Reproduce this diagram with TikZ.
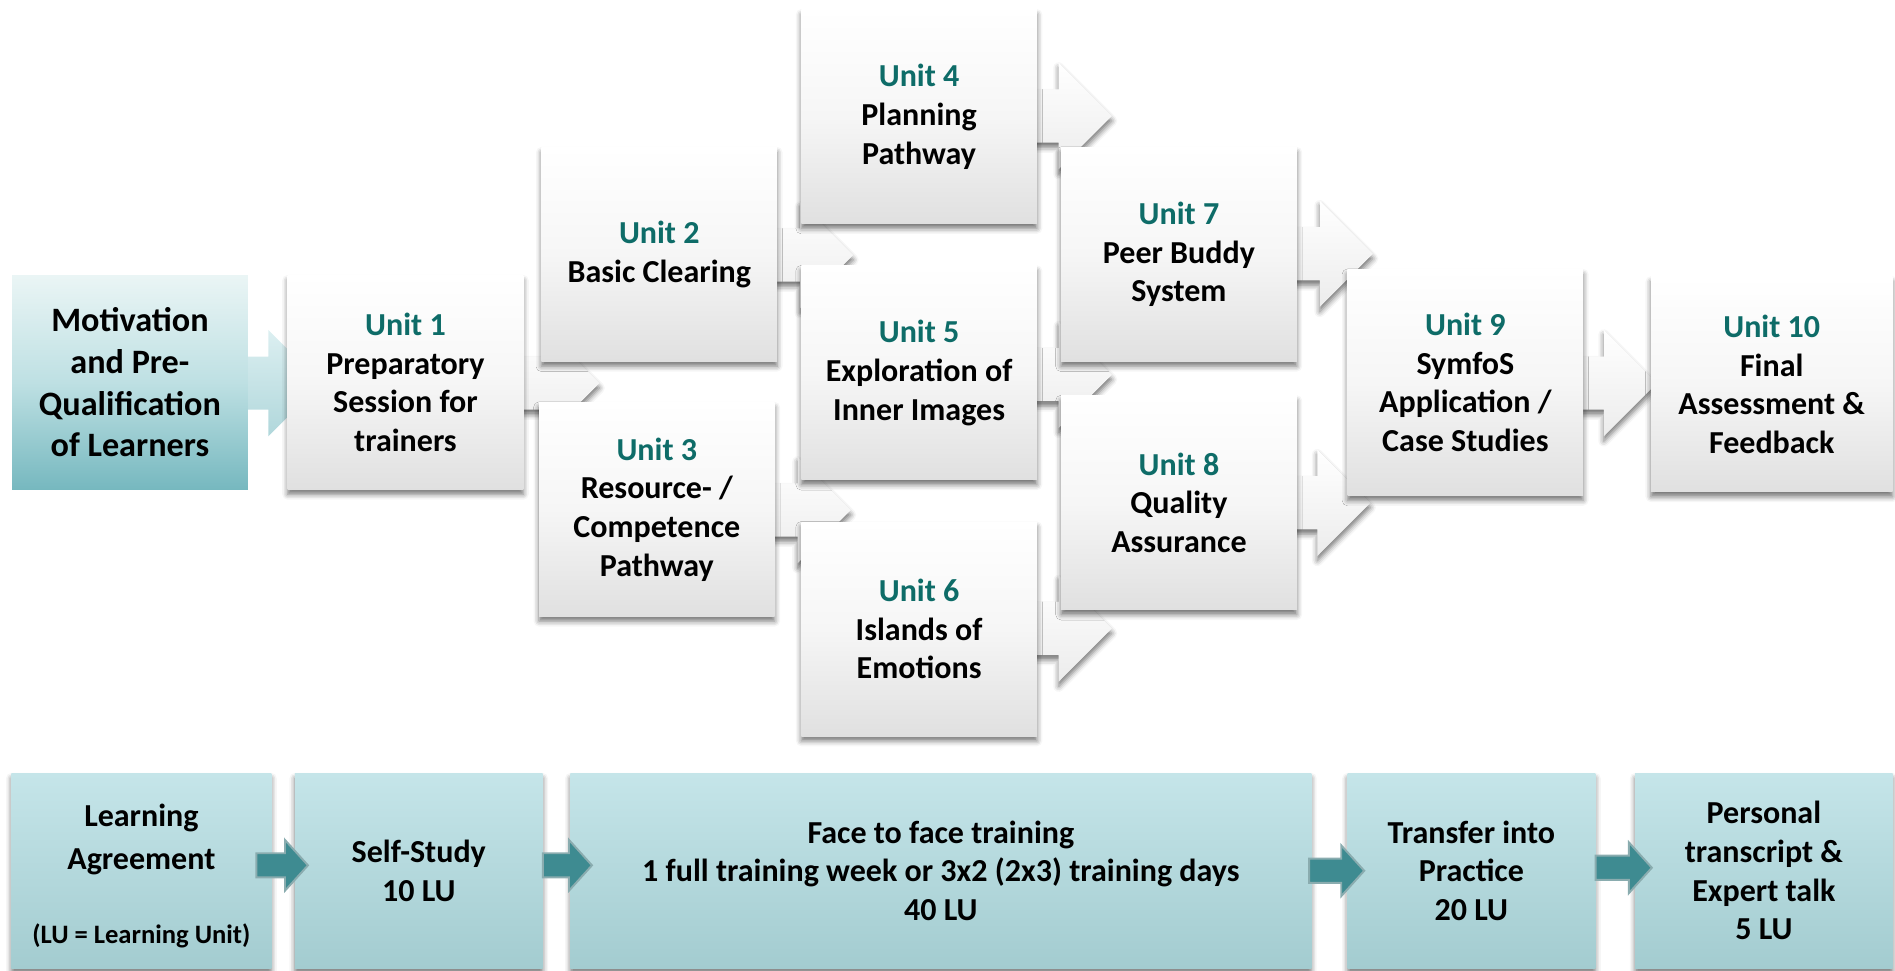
\documentclass[tikz,border=0pt]{standalone}
\usepackage{fontspec}
\setmainfont{Carlito}
\usetikzlibrary{calc,shadows.blur}
\definecolor{unitteal}{RGB}{14,108,104}
\definecolor{boxgrey}{RGB}{224,224,224}
\definecolor{boxmid}{RGB}{246,246,246}
\definecolor{mottop}{RGB}{234,245,245}
\definecolor{motmid}{RGB}{190,224,227}
\definecolor{motbot}{RGB}{118,184,191}
\definecolor{lowtop}{RGB}{197,229,233}
\definecolor{lowbot}{RGB}{163,204,208}
\definecolor{arrteal}{RGB}{62,139,145}
\definecolor{arredge}{RGB}{138,172,175}
\definecolor{motarrtop}{RGB}{220,239,241}
\definecolor{motarrbot}{RGB}{176,215,219}
\definecolor{arrbot}{RGB}{236,236,236}
\newcommand\ut[1]{\textcolor{unitteal}{#1}}
% big block arrow: #1 style, #2 source point, #3 tip coordinate
\newcommand\blockarrow[3]{%
  \path[#1] let \p1=(#2), \p2=(#3) in
    (\x1,\y2+22pt) -- (\x2-44pt,\y2+22pt) -- (\x2-44pt,\y2+44pt) -- (\x2,\y2)
    -- (\x2-44pt,\y2-44pt) -- (\x2-44pt,\y2-22pt) -- (\x1,\y2-22pt) -- cycle;}
% small teal arrow: #1 start coordinate, #2 tip coordinate
\newcommand\tealarrow[2]{%
  \path[smallarr] let \p1=(#1), \p2=(#2) in
    (\x1,\y2+10pt) -- (\x2-19pt,\y2+10pt) -- (\x2-19pt,\y2+21pt) -- (\x2,\y2)
    -- (\x2-19pt,\y2-21pt) -- (\x2-19pt,\y2-10pt) -- (\x1,\y2-10pt) -- cycle;}
\tikzset{
  softshadow/.style={blur shadow={shadow xshift=0pt, shadow yshift=-4pt, shadow blur radius=4.5pt, shadow opacity=55}},
  unitbox/.style={rectangle, inner sep=0pt, minimum width=195pt, minimum height=177pt,
    align=center, font=\fontsize{26.5}{32}\selectfont\bfseries,
    top color=white, bottom color=boxgrey, middle color=boxmid, softshadow},
  motbox/.style={rectangle, inner sep=0pt, minimum width=195pt, minimum height=177pt,
    align=center, font=\fontsize{28.3}{34.5}\selectfont\bfseries,
    top color=mottop, bottom color=motbot, middle color=motmid},
  lowbox/.style={rectangle, inner sep=0pt, minimum height=161pt,
    align=center, font=\fontsize{26.5}{32}\selectfont\bfseries,
    top color=lowtop, bottom color=lowbot, softshadow},
  bigarr/.style={shade, top color=white, bottom color=arrbot, softshadow},
  motarr/.style={shade, top color=motarrtop, bottom color=motarrbot},
  smallarr/.style={fill=arrteal, draw=arredge, line width=1.6pt},
  plain/.style={inner sep=0pt, align=center}
}
\begin{document}
\begin{tikzpicture}[x=1pt,y=-1pt]
\useasboundingbox (0,0) rectangle (1568,803);
% ---------- positions of the upper boxes ----------
\coordinate (pmot) at (107.5,316.5);
\coordinate (pu1) at (335.5,316.5);
\coordinate (pu2) at (545.5,210.5);
\coordinate (pu3) at (543.5,421.5);
\coordinate (pu4) at (760.5,96.5);
\coordinate (pu5) at (760.5,308.5);
\coordinate (pu6) at (760.5,520.5);
\coordinate (pu7) at (975.5,210.5);
\coordinate (pu8) at (975.5,416);
\coordinate (pu9) at (1212.5,316.5);
\coordinate (pu10) at (1466,318);
% arrow tips
\coordinate (t0) at (266,317);
\coordinate (t1) at (496,317);
\coordinate (t2) at (706,211);
\coordinate (t3) at (704,422);
\coordinate (t4) at (920,96);
\coordinate (t5) at (920,310);
\coordinate (t6) at (920,520);
\coordinate (t7) at (1136,210);
\coordinate (t8) at (1134,416);
\coordinate (t9) at (1371,317);
% ---------- block arrows (behind the boxes) ----------
\blockarrow{motarr}{pmot}{t0}
\blockarrow{bigarr}{pu1}{t1}
\blockarrow{bigarr}{pu2}{t2}
\blockarrow{bigarr}{pu3}{t3}
\blockarrow{bigarr}{pu4}{t4}
\blockarrow{bigarr}{pu5}{t5}
\blockarrow{bigarr}{pu6}{t6}
\blockarrow{bigarr}{pu7}{t7}
\blockarrow{bigarr}{pu8}{t8}
\blockarrow{bigarr}{pu9}{t9}
% ---------- upper boxes ----------
\node[motbox] (mot) at (pmot) {Motivation\\and Pre-\\Qualification\\of Learners};
\node[unitbox] (u1) at (pu1) {\ut{Unit 1}\\Preparatory\\Session for\\trainers};
\node[unitbox] (u2) at (pu2) {\ut{Unit 2}\\Basic Clearing};
\node[unitbox] (u3) at (pu3) {\ut{Unit 3}\\Resource- /\\Competence\\Pathway};
\node[unitbox] (u4) at (pu4) {\ut{Unit 4}\\Planning\\Pathway};
\node[unitbox] (u5) at (pu5) {\ut{Unit 5}\\Exploration of\\Inner Images};
\node[unitbox] (u6) at (pu6) {\ut{Unit 6}\\Islands of\\Emotions};
\node[unitbox] (u7) at (pu7) {\ut{Unit 7}\\Peer Buddy\\System};
\node[unitbox] (u8) at (pu8) {\ut{Unit 8}\\Quality\\Assurance};
\node[unitbox, minimum height=187pt] (u9) at (pu9) {\ut{Unit 9}\\SymfoS\\Application /\\Case Studies};
\node[unitbox, minimum width=200pt, minimum height=178pt] (u10) at (pu10) {\ut{Unit 10}\\Final\\Assessment \&\\Feedback};
% ---------- lower flow ----------
\node[lowbox, minimum width=215pt] (b1) at (117,720.5) {};
\node[plain, font=\fontsize{26.5}{35}\selectfont\bfseries] (b1t) at ($(b1.center)+(0,-26)$) {Learning\\Agreement};
\node[plain, font=\fontsize{22}{26}\selectfont\bfseries] (b1n) at ($(b1.center)+(0,53.5)$) {(LU = Learning Unit)};
\node[lowbox, minimum width=205pt] (b2) at (346.5,720.5) {Self-Study\\10 LU};
\node[lowbox, minimum width=613pt] (b3) at (778.5,720.5) {Face to face training\\1 full training week or 3x2 (2x3) training days\\40 LU};
\node[lowbox, minimum width=205pt] (b4) at (1217.5,720.5) {Transfer into\\Practice\\20 LU};
\node[lowbox, minimum width=213pt] (b5) at (1459.5,720.5) {Personal\\transcript \&\\Expert talk\\5 LU};
\coordinate (s1) at ($(b1.east)+(-12.5,-4.5)$);
\coordinate (e1) at ($(b2.west)+(11,-4.5)$);
\coordinate (s2) at ($(b2.east)+(0,-4.5)$);
\coordinate (e2) at ($(b3.west)+(18,-4.5)$);
\coordinate (s3) at ($(b3.east)+(-2,0)$);
\coordinate (e3) at ($(b4.west)+(14,0)$);
\coordinate (s4) at ($(b4.east)+(0,-2.5)$);
\coordinate (e4) at ($(b5.west)+(14,-2.5)$);
\tealarrow{s1}{e1}
\tealarrow{s2}{e2}
\tealarrow{s3}{e3}
\tealarrow{s4}{e4}
\end{tikzpicture}
\end{document}
